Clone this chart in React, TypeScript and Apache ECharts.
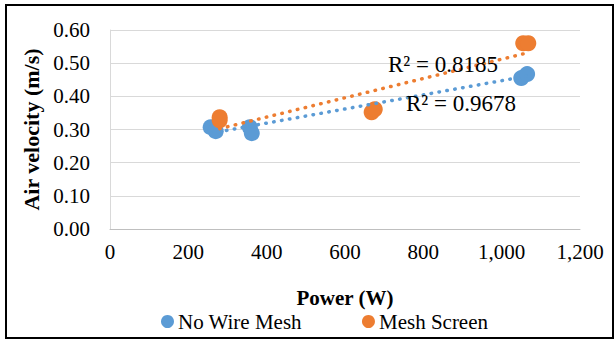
import React, { useEffect, useRef } from "react";
import * as echarts from "echarts";

const seriesNames = ["No Wire Mesh", "Mesh Screen"];
const noWireMeshX = [257, 270, 357, 362, 1050, 1065];
const noWireMeshY = [0.307, 0.295, 0.307, 0.289, 0.455, 0.467];
const meshScreenX = [280, 280, 668, 676, 1055, 1068];
const meshScreenY = [0.337, 0.328, 0.352, 0.361, 0.56, 0.56];
const r2Labels = ["R² = 0.9678", "R² = 0.8185"];
const colors = ["#5b9bd5", "#ed7d31"];

function fit(xs: number[], ys: number[]) {
  const n = xs.length;
  const mx = xs.reduce((a, b) => a + b, 0) / n;
  const my = ys.reduce((a, b) => a + b, 0) / n;
  let sxy = 0, sxx = 0;
  for (let i = 0; i < n; i++) {
    sxy += (xs[i] - mx) * (ys[i] - my);
    sxx += (xs[i] - mx) * (xs[i] - mx);
  }
  const b = sxy / sxx;
  const a = my - b * mx;
  const x0 = Math.min(...xs), x1 = Math.max(...xs);
  return [[x0, a + b * x0], [x1, a + b * x1]];
}

export default function App() {
  const ref = useRef<HTMLDivElement>(null);
  useEffect(() => {
    const chart = echarts.init(ref.current!, null, { renderer: "svg" });
    const font = "'Liberation Serif', 'Times New Roman', serif";
    const trendStyle = (c: string) => ({
      color: c,
      width: 3.5,
      type: [0.5, 7.5] as any,
      cap: "round" as any,
    });
    chart.setOption({
      animation: false,
      textStyle: { fontFamily: font },
      grid: { left: 110, right: 34, top: 30, bottom: 112, containLabel: false },
      xAxis: {
        type: "value",
        min: 0,
        max: 1200,
        interval: 200,
        name: "Power (W)",
        nameLocation: "middle",
        nameGap: 58,
        nameTextStyle: { fontFamily: font, fontWeight: "bold", fontSize: 21, color: "#000" },
        axisLine: { show: true, lineStyle: { color: "#bfbfbf", width: 1 } },
        axisTick: { show: false },
        splitLine: { show: false },
        axisLabel: {
          fontFamily: font,
          fontSize: 21,
          color: "#000",
          margin: 12,
          formatter: (v: number) => v.toLocaleString("en-US"),
        },
      },
      yAxis: {
        type: "value",
        min: 0,
        max: 0.6,
        interval: 0.1,
        name: "Air velocity (m/s)",
        nameLocation: "middle",
        nameGap: 68,
        nameTextStyle: { fontFamily: font, fontWeight: "bold", fontSize: 22, color: "#000" },
        axisLine: { show: true, lineStyle: { color: "#d9d9d9", width: 1 } },
        axisTick: { show: false },
        splitLine: { show: true, lineStyle: { color: "#d9d9d9", width: 1 } },
        axisLabel: {
          fontFamily: font,
          fontSize: 21,
          color: "#000",
          margin: 20,
          formatter: (v: number) => v.toFixed(2),
        },
      },
      legend: {
        top: 306,
        left: 156,
        itemGap: 60,
        icon: "circle",
        itemWidth: 13,
        itemHeight: 13,
        data: seriesNames,
        textStyle: { fontFamily: font, fontSize: 21, color: "#000", padding: [0, 0, 0, -1] },
      },
      series: [
        {
          name: seriesNames[0],
          type: "scatter",
          symbolSize: 16,
          itemStyle: { color: colors[0], opacity: 1 },
          data: noWireMeshX.map((x, i) => [x, noWireMeshY[i]]),
          z: 2,
        },
        {
          name: seriesNames[1],
          type: "scatter",
          symbolSize: 16,
          itemStyle: { color: colors[1], opacity: 1 },
          data: meshScreenX.map((x, i) => [x, meshScreenY[i]]),
          z: 2,
        },
        {
          name: "trend1",
          type: "line",
          showSymbol: false,
          symbol: "none",
          lineStyle: trendStyle(colors[0]),
          data: fit(noWireMeshX, noWireMeshY),
          z: 3,
        },
        {
          name: "trend2",
          type: "line",
          showSymbol: false,
          symbol: "none",
          lineStyle: trendStyle(colors[1]),
          data: fit(meshScreenX, meshScreenY),
          z: 3,
        },
      ],
      graphic: [
        {
          type: "rect",
          shape: { x: 6, y: 5, width: 607, height: 333 },
          style: { fill: "none", stroke: "#000", lineWidth: 2 },
          z: 100,
        },
        {
          type: "text",
          x: 388,
          y: 64,
          style: { text: r2Labels[1], font: `23px ${font}`, fill: "#000", textVerticalAlign: "middle" },
          z: 100,
        },
        {
          type: "text",
          x: 406,
          y: 103,
          style: { text: r2Labels[0], font: `23px ${font}`, fill: "#000", textVerticalAlign: "middle" },
          z: 100,
        },
      ],
    });
    return () => chart.dispose();
  }, []);
  return (
    <div
      ref={ref}
      style={{ position: "absolute", left: 0, top: 0, width: 614, height: 341, background: "#fff" }}
    />
  );
}
